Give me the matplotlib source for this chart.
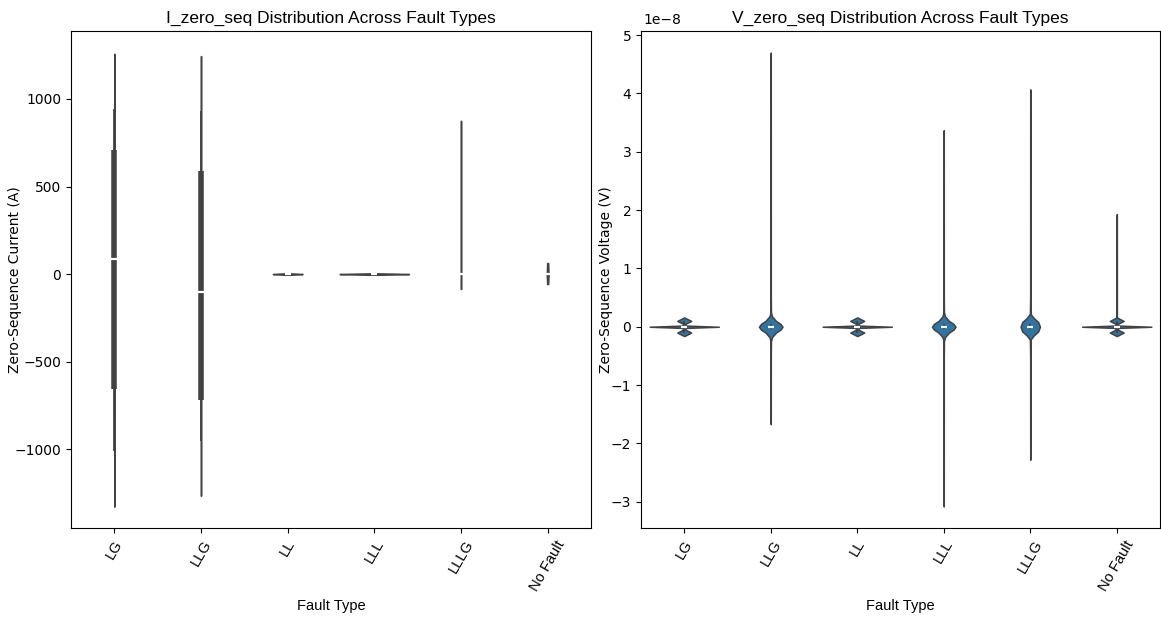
import numpy as np
import matplotlib.pyplot as plt
from matplotlib.transforms import offset_copy

# =======================
# Data
# =======================
fault_types = ['LG', 'LLG', 'LL', 'LLL', 'LLLG', 'No Fault']

# I_zero_seq (A): violin outline as (value, density) pairs per fault type
i_shape_y = [
    [-1328, -1000, -650, 0, 700, 950, 1258],
    [-1266, -950, -700, -100, 600, 930, 1245],
    [-4, -2, 0, 2, 4],
    [-4, -2, 0, 2, 4],
    [-85, -20, 0, 20, 300, 875],
    [-57, -20, 0, 20, 63],
]
i_shape_dens = [
    [0.00025, 0.0003, 0.0004, 0.0004, 0.0004, 0.0003, 0.00025],
    [0.00025, 0.0003, 0.0004, 0.0004, 0.0004, 0.0003, 0.00025],
    [0.01, 0.04, 0.06, 0.04, 0.01],
    [0.02, 0.09, 0.14, 0.09, 0.02],
    [0.0008, 0.001, 0.0012, 0.001, 0.0008, 0.0006],
    [0.002, 0.003, 0.004, 0.003, 0.002],
]
# inner box: lower whisker, q1, median, q3, upper whisker
i_whislo = [-1009, -952, -1, -1, -2, -3]
i_q1 = [-656, -718, -0.5, -0.5, -1, -1]
i_median = [85, -103, 0, 0, 0, 0]
i_q3 = [709, 586, 0.5, 0.5, 1, 1]
i_whishi = [943, 932, 1, 1, 2, 3]

# V_zero_seq (x 1e-8 V)
v_scale = 1e-8
v_shape_y = [
    [-0.16, -0.13, -0.10, -0.07, -0.05, -0.02, 0, 0.02, 0.05, 0.07, 0.10, 0.13, 0.16],
    [-1.67, -0.5, -0.25, -0.18, -0.1, -0.05, 0, 0.05, 0.1, 0.18, 0.25, 0.5, 4.70],
    [-0.16, -0.13, -0.10, -0.07, -0.05, -0.02, 0, 0.02, 0.05, 0.07, 0.10, 0.13, 0.16],
    [-3.08, -0.5, -0.25, -0.18, -0.1, -0.05, 0, 0.05, 0.1, 0.18, 0.25, 0.5, 3.37],
    [-2.28, -0.5, -0.22, -0.15, -0.08, 0, 0.08, 0.15, 0.22, 0.5, 4.07],
    [-0.16, -0.13, -0.10, -0.07, -0.05, -0.02, 0, 0.02, 0.05, 0.07, 0.10, 0.13, 0.16, 1.93],
]
v_shape_dens = [
    [0, 0.1, 0.2, 0.1, 0.03, 0.05, 1.0, 0.05, 0.03, 0.1, 0.2, 0.1, 0],
    [0.001, 0.002, 0.006, 0.035, 0.15, 0.28, 0.34, 0.28, 0.15, 0.035, 0.006, 0.002, 0.001],
    [0, 0.1, 0.2, 0.1, 0.03, 0.05, 1.0, 0.05, 0.03, 0.1, 0.2, 0.1, 0],
    [0.001, 0.002, 0.006, 0.035, 0.15, 0.28, 0.34, 0.28, 0.15, 0.035, 0.006, 0.002, 0.001],
    [0.001, 0.002, 0.01, 0.1, 0.23, 0.28, 0.23, 0.1, 0.01, 0.002, 0.001],
    [0, 0.1, 0.2, 0.1, 0.03, 0.05, 1.0, 0.05, 0.03, 0.1, 0.2, 0.1, 0.005, 0.003],
]
v_whislo = [-0.10, -0.04, -0.10, -0.04, -0.04, -0.10]
v_q1 = [-0.02, -0.02, -0.02, -0.02, -0.02, -0.02]
v_median = [0, 0, 0, 0, 0, 0]
v_q3 = [0.02, 0.02, 0.02, 0.02, 0.02, 0.02]
v_whishi = [0.10, 0.04, 0.10, 0.04, 0.04, 0.10]

# =======================
# Style
# =======================
fill_color = '#3274a1'
line_color = '#424242'
max_width = 0.8
narrow_font = ['Liberation Sans', 'DejaVu Sans']


def draw_violins(ax, shape_y, shape_dens, whislo, q1, med, q3, whishi, scale=1.0):
    positions = np.arange(len(fault_types))
    peaks = [max(d) for d in shape_dens]
    # area normalisation: widest violin gets max_width
    widths = [max_width * p / max(peaks) for p in peaks]
    stats = []
    for ys, ds in zip(shape_y, shape_dens):
        ys = np.array(ys) * scale
        stats.append({'coords': ys, 'vals': np.array(ds, dtype=float),
                      'mean': np.mean(ys), 'median': np.median(ys),
                      'min': ys.min(), 'max': ys.max()})
    parts = ax.violin(stats, positions=positions, widths=widths,
                      showmeans=False, showextrema=False, showmedians=False)
    for body in parts['bodies']:
        body.set_facecolor(fill_color)
        body.set_edgecolor(line_color)
        body.set_linewidth(1.1)
        body.set_alpha(1)
    for k, pos in enumerate(positions):
        ax.plot([pos, pos], [whislo[k] * scale, whishi[k] * scale],
                color=line_color, lw=1.3, solid_capstyle='butt')
        ax.plot([pos, pos], [q1[k] * scale, q3[k] * scale],
                color=line_color, lw=4, solid_capstyle='butt')
        ax.plot(pos, med[k] * scale, marker='_', ms=4, mew=1.6,
                color='white', zorder=5)
    ax.set_xticks(positions)
    ax.set_xticklabels(fault_types, rotation=60, fontsize=10.5, family=narrow_font)
    ax.set_xlim(-0.5, len(fault_types) - 0.5)


# =======================
# Figure
# =======================
fig = plt.figure(figsize=(11.61, 6.19), dpi=100)
ax1 = fig.add_axes([71 / 1161, 91 / 619, 520 / 1161, 497 / 619])
ax2 = fig.add_axes([641 / 1161, 91 / 619, 519 / 1161, 497 / 619])

draw_violins(ax1, i_shape_y, i_shape_dens, i_whislo, i_q1, i_median, i_q3, i_whishi)
ax1.set_ylim(-1450, 1388)
ax1.set_title('I_zero_seq Distribution Across Fault Types', fontsize=12.5, family=narrow_font)
ax1.set_xlabel('Fault Type', fontsize=10.5, family=narrow_font)
ax1.set_ylabel('Zero-Sequence Current (A)', fontsize=10)
ax1.yaxis.set_label_coords(-0.094, 0.5)

draw_violins(ax2, v_shape_y, v_shape_dens, v_whislo, v_q1, v_median, v_q3, v_whishi,
             scale=v_scale)
ax2.set_ylim(-3.45e-8, 5.07e-8)
ax2.set_title('V_zero_seq Distribution Across Fault Types', fontsize=12.5, family=narrow_font)
ax2.set_xlabel('Fault Type', fontsize=10.5, family=narrow_font)
ax2.set_ylabel('Zero-Sequence Voltage (V)', fontsize=10)
ax2.yaxis.set_label_coords(-0.054, 0.5)

for ax in (ax1, ax2):
    ax.tick_params(axis='y', labelsize=10)

# the 1e-8 multiplier sits just right of the left spine in the reference
fig.canvas.draw()
offset_str = ax2.yaxis.get_major_formatter().get_offset()
ax2.yaxis.get_offset_text().set_visible(False)
ax2.text(0.004, 1.0, offset_str, fontsize=10, ha='left', va='bottom',
         transform=offset_copy(ax2.transAxes, fig=fig, y=4, units='dots'))

plt.savefig('out.png', dpi=100)
plt.close()
